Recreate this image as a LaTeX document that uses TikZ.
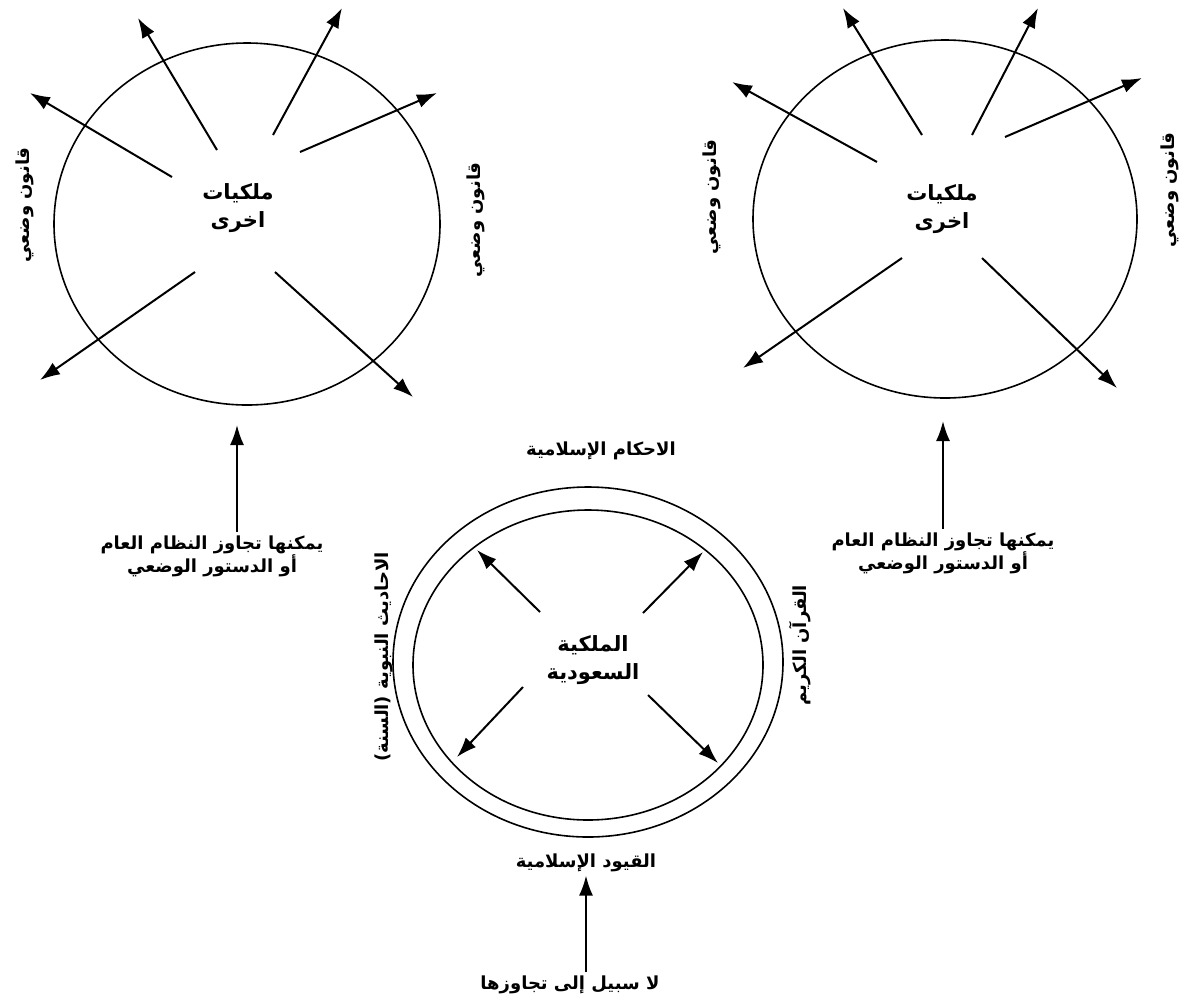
\documentclass[tikz,border=0pt]{standalone}
\usepackage{fontspec}
\usetikzlibrary{arrows.meta}
\newfontfamily\arabicfont[Script=Arabic]{DejaVu Sans}
\TeXXeTstate=1
% one right-to-left line of Arabic
\newcommand{\rtl}[1]{\beginR #1\endR}
\tikzset{
  realm/.style={draw, line width=1.6pt},
  ray/.style={-{Latex[length=20pt,width=14pt]}, line width=2pt},
  core/.style={align=center, font=\arabicfont\bfseries\fontsize{21}{28}\selectfont},
  lbl/.style={align=center, font=\arabicfont\bfseries\fontsize{18}{22}\selectfont},
  sidelbl/.style={lbl, rotate=90}
}
\begin{document}
\begin{tikzpicture}[x=1pt,y=-1pt]
\useasboundingbox (0,0) rectangle (1194,1005);

% left circle: other monarchies
\draw[realm] (247,224) ellipse [x radius=193pt, y radius=181pt];
\node[core] (lk) at (238,208) {\rtl{ملكيات}\\\rtl{اخرى}};
\coordinate (l1s) at (217,150); \coordinate (l1e) at (138,18);
\coordinate (l2s) at (273,135); \coordinate (l2e) at (342,8);
\coordinate (l3s) at (300,152); \coordinate (l3e) at (437,93);
\coordinate (l4s) at (172,177); \coordinate (l4e) at (30,93);
\coordinate (l5s) at (195,272); \coordinate (l5e) at (40,380);
\coordinate (l6s) at (275,272); \coordinate (l6e) at (413,397);
\draw[ray] (l1s) -- (l1e);
\draw[ray] (l2s) -- (l2e);
\draw[ray] (l3s) -- (l3e);
\draw[ray] (l4s) -- (l4e);
\draw[ray] (l5s) -- (l5e);
\draw[ray] (l6s) -- (l6e);
\node[sidelbl] (ll) at (25,205) {\rtl{قانون وضعي}};
\node[sidelbl] (lr) at (476,220) {\rtl{قانون وضعي}};

% right circle: other monarchies
\draw[realm] (945,219) ellipse [x radius=192pt, y radius=179pt];
\node[core] (rk) at (942,209) {\rtl{ملكيات}\\\rtl{اخرى}};
\coordinate (r1s) at (922,135); \coordinate (r1e) at (843,8);
\coordinate (r2s) at (972,135); \coordinate (r2e) at (1038,8);
\coordinate (r3s) at (1005,137); \coordinate (r3e) at (1142,78);
\coordinate (r4s) at (877,162); \coordinate (r4e) at (732,82);
\coordinate (r5s) at (902,258); \coordinate (r5e) at (743,368);
\coordinate (r6s) at (982,258); \coordinate (r6e) at (1117,388);
\draw[ray] (r1s) -- (r1e);
\draw[ray] (r2s) -- (r2e);
\draw[ray] (r3s) -- (r3e);
\draw[ray] (r4s) -- (r4e);
\draw[ray] (r5s) -- (r5e);
\draw[ray] (r6s) -- (r6e);
\node[sidelbl] (rl) at (712,197) {\rtl{قانون وضعي}};
\node[sidelbl] (rr) at (1170,190) {\rtl{قانون وضعي}};

% notes under the two outer circles
\node[lbl] (lnote) at (212,556) {\rtl{يمكنها تجاوز النظام العام}\\\rtl{أو الدستور الوضعي}};
\coordinate (lup) at (237,425);
\draw[ray] (lnote.north -| lup) -- (lup);
\node[lbl] (rnote) at (943,553) {\rtl{يمكنها تجاوز النظام العام}\\\rtl{أو الدستور الوضعي}};
\coordinate (rup) at (943,421);
\draw[ray] (rnote.north -| rup) -- (rup);

% middle: the Saudi monarchy inside a double ring
\draw[realm] (588,662) ellipse [x radius=195pt, y radius=175pt];
\draw[realm] (588,665) ellipse [x radius=175pt, y radius=155pt];
\node[core] (sk) at (593,660) {\rtl{الملكية}\\\rtl{السعودية}};
\coordinate (m1s) at (540,612); \coordinate (m1e) at (477,550);
\coordinate (m2s) at (643,613); \coordinate (m2e) at (703,552);
\coordinate (m3s) at (523,687); \coordinate (m3e) at (457,757);
\coordinate (m4s) at (648,695); \coordinate (m4e) at (718,763);
\draw[ray] (m1s) -- (m1e);
\draw[ray] (m2s) -- (m2e);
\draw[ray] (m3s) -- (m3e);
\draw[ray] (m4s) -- (m4e);
\node[lbl] (top) at (601,451) {\rtl{الاحكام الإسلامية}};
\node[sidelbl] (sunna) at (384,657) {\rtl{الاحاديث النبوية (السنة)}};
\node[sidelbl] (quran) at (800,645) {\rtl{القرآن الكريم}};
\node[lbl] (bonds) at (586,863) {\rtl{القيود الإسلامية}};
\node[lbl] (nopass) at (570,985) {\rtl{لا سبيل إلى تجاوزها}};
\draw[ray] (nopass.north -| bonds) -- (bonds.south);
\end{tikzpicture}
\end{document}
